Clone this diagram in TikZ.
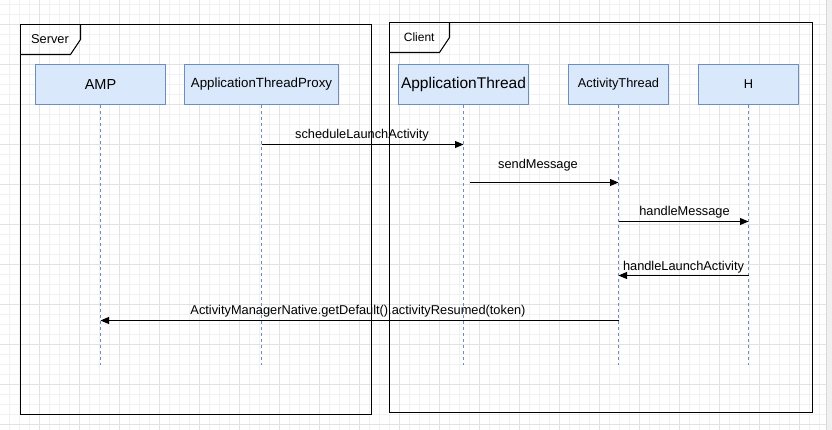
\documentclass[tikz,border=0pt]{standalone}
\usepackage{fontspec}
\setmainfont{Liberation Sans}
\usetikzlibrary{arrows.meta,calc}
\definecolor{lfill}{HTML}{DAE8FC}
\definecolor{lline}{HTML}{6C8EBF}
\definecolor{gridmin}{HTML}{F1F1F1}
\definecolor{gridmaj}{HTML}{E2E2E2}
\begin{document}
\begin{tikzpicture}[x=1pt,y=-1pt,
  head/.style={draw=lline,fill=lfill,line width=1pt,minimum height=40pt,inner sep=0pt,font=\fontsize{12.8}{15}\selectfont},
  life/.style={draw=lline,dash pattern=on 3pt off 3pt,line width=0.9pt},
  msg/.style={draw=black,line width=1pt,-{Triangle[length=8.5pt,width=7pt]}},
  lbl/.style={font=\fontsize{12.8}{15}\selectfont,inner sep=0pt},
  frame/.style={draw=black,line width=1.1pt},
]
\useasboundingbox (0,0) rectangle (832,430);
\fill[white] (0,0) rectangle (832,430);
% grid
\foreach \i in {0,...,83} \draw[gridmin,line width=1pt] ({\i*10+9.5},0) -- ({\i*10+9.5},430);
\foreach \i in {0,...,43} \draw[gridmin,line width=1pt] (0,{\i*10+4.5}) -- (832,{\i*10+4.5});
\foreach \i in {0,...,21} \draw[gridmaj,line width=1pt] ({\i*40-0.5},0) -- ({\i*40-0.5},430);
\foreach \i in {0,...,11} \draw[gridmaj,line width=1pt] (0,{\i*40+24.5}) -- (832,{\i*40+24.5});
\fill[gray!12] (826,0) rectangle (832,430);
\draw[gray!30,line width=1pt] (826,0) -- (826,430);

% frames
\draw[frame] (20.5,24.5) rectangle (371.5,414.5);
\draw[frame] (20.5,54.5) -- (70.5,54.5) -- (80.5,39.5) -- (80.5,24.5);
\node[lbl,font=\fontsize{12.8}{15}\selectfont] (srvlbl) at (50,39.5) {Server};
\draw[frame] (389.5,22.5) rectangle (812.5,412.5);
\draw[frame] (389.5,52.5) -- (439.5,52.5) -- (449.5,37.5) -- (449.5,22.5);
\node[lbl,font=\fontsize{12}{14}\selectfont] (cltlbl) at (419.2,37.5) {Client};

% lifeline heads
\node[head,minimum width=130pt] (AMP) at (100.5,84.5) {\fontsize{14.5}{17}\selectfont AMP};
\node[head,minimum width=154pt] (ATP) at (261.5,84.5) {\fontsize{13.3}{16}\selectfont ApplicationThreadProxy};
\node[head,minimum width=130pt] (AT) at (463.5,84.5) {\fontsize{15.5}{18}\selectfont ApplicationThread};
\node[head,minimum width=100pt] (ACT) at (618.5,84.5) {ActivityThread};
\node[head,minimum width=100pt] (H) at (748.5,84.5) {H};

% lifelines
\coordinate (lifeend) at (0,364.5);
\foreach \n in {AMP,ATP,AT,ACT,H} \draw[life] (\n.south) -- (\n.south |- lifeend);

% messages
\coordinate (m1) at (0,144.5);
\coordinate (m2) at (0,182.5);
\coordinate (m3) at (0,221.5);
\coordinate (m4) at (0,275.5);
\coordinate (m5) at (0,320.5);

\draw[msg] (ATP |- m1) -- (AT |- m1);
\node[lbl] (l1) at (362,135) {scheduleLaunchActivity};
\draw[msg] ($(AT |- m2)+(6,0)$) -- (ACT |- m2);
\node[lbl] (l2) at (538,165) {sendMessage};
\draw[msg] (ACT |- m3) -- (H |- m3);
\node[lbl] (l3) at (684.5,211.7) {handleMessage};
\draw[msg] (H |- m4) -- (ACT |- m4);
\node[lbl] (l4) at (683.5,267) {handleLaunchActivity};
\draw[msg] (ACT |- m5) -- (AMP |- m5);
\node[lbl] (l5) at (358,311) {ActivityManagerNative.getDefault().activityResumed(token)};
\end{tikzpicture}
\end{document}
